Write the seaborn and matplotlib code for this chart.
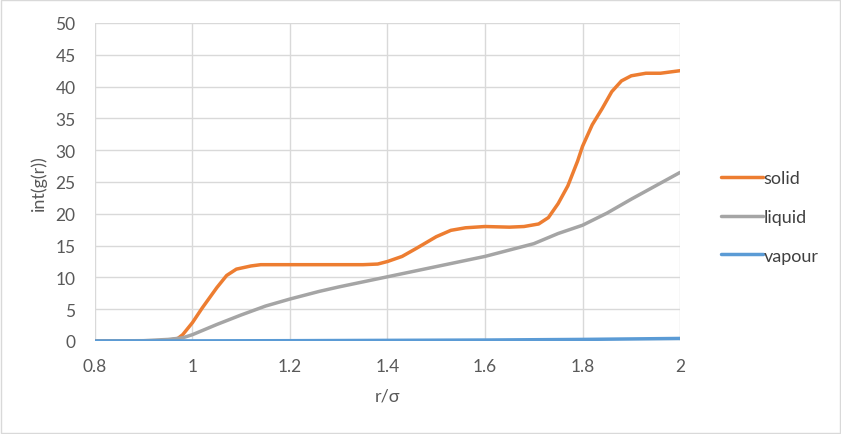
import matplotlib
matplotlib.use("Agg")
import matplotlib.pyplot as plt
import seaborn as sns
import pandas as pd
from matplotlib.patches import Rectangle

solid_r = [0.8, 0.85, 0.9, 0.93, 0.95, 0.97, 0.98, 1.0, 1.02, 1.05, 1.07, 1.09, 1.12, 1.14,
           1.2, 1.25, 1.3, 1.35, 1.38, 1.4, 1.43, 1.46, 1.5, 1.53, 1.56, 1.6, 1.65, 1.68, 1.71,
           1.73, 1.75, 1.77, 1.79, 1.8, 1.82, 1.84, 1.86, 1.88, 1.9, 1.93, 1.96, 2.0]
solid_v = [0, 0, 0, 0.05, 0.1, 0.4, 1.0, 2.9, 5.2, 8.4, 10.3, 11.3, 11.8, 12.0,
           12.0, 12.0, 12.0, 12.0, 12.1, 12.5, 13.3, 14.6, 16.4, 17.4, 17.8, 18.0, 17.9, 18.0, 18.4,
           19.4, 21.6, 24.4, 28.3, 30.6, 34.0, 36.5, 39.2, 40.9, 41.7, 42.1, 42.1, 42.5]

liquid_r = [0.8, 0.9, 0.95, 0.98, 1.0, 1.05, 1.1, 1.15, 1.2, 1.26, 1.3, 1.35, 1.4, 1.45, 1.5,
            1.55, 1.6, 1.65, 1.7, 1.75, 1.8, 1.85, 1.9, 1.95, 2.0]
liquid_v = [0, 0.05, 0.25, 0.5, 1.0, 2.6, 4.1, 5.5, 6.6, 7.8, 8.5, 9.3, 10.1, 10.9, 11.7,
            12.5, 13.3, 14.3, 15.3, 16.9, 18.2, 20.1, 22.3, 24.4, 26.5]

vapour_r = [0.8, 1.0, 1.2, 1.4, 1.6, 1.8, 2.0]
vapour_v = [0, 0.02, 0.05, 0.1, 0.15, 0.25, 0.4]

series_names = ["solid", "liquid", "vapour"]
colors = ["#ED7D31", "#A5A5A5", "#5B9BD5"]
x_ticks = [0.8, 1.0, 1.2, 1.4, 1.6, 1.8, 2.0]
x_tick_labels = ["0.8", "1", "1.2", "1.4", "1.6", "1.8", "2"]
y_ticks = list(range(0, 55, 5))

df = pd.concat([
    pd.DataFrame({"r": solid_r, "v": solid_v, "series": "solid"}),
    pd.DataFrame({"r": liquid_r, "v": liquid_v, "series": "liquid"}),
    pd.DataFrame({"r": vapour_r, "v": vapour_v, "series": "vapour"}),
], ignore_index=True)

sns.set_theme(style="white")
plt.rcParams["font.family"] = ["Lato", "DejaVu Sans"]

fig = plt.figure(figsize=(8.41, 4.35), dpi=100)
ax = fig.add_axes([95 / 841, 1 - 342 / 435, 585 / 841, 318 / 435])

sns.lineplot(data=df, x="r", y="v", hue="series", hue_order=series_names,
             palette=colors, estimator=None, linewidth=2.5, ax=ax, legend=True,
             solid_capstyle="round", solid_joinstyle="round")

ax.set_xlim(0.8, 2.0)
ax.set_ylim(0, 50)
ax.set_xticks(x_ticks)
ax.set_xticklabels(x_tick_labels)
ax.set_yticks(y_ticks)
ax.grid(True, color="#D9D9D9", linewidth=1.0)
ax.set_axisbelow(True)
for s in ax.spines.values():
    s.set_visible(False)
ax.tick_params(axis="both", length=0, labelsize=12.5, colors="#595959")
ax.tick_params(axis="x", pad=12)
ax.tick_params(axis="y", pad=14)
ax.set_xlabel("r/σ", fontsize=13, color="#595959", labelpad=10)
ax.set_ylabel("int(g(r))", fontsize=13, color="#595959", labelpad=6)

handles, labels = ax.get_legend_handles_labels()
ax.get_legend().remove()
leg = fig.legend(handles, labels, loc="center left", bbox_to_anchor=(712 / 841, 1 - 218 / 435),
                 frameon=False, fontsize=13, handlelength=2.3, handletextpad=0.05,
                 labelspacing=1.25, labelcolor="#404040", borderpad=0)
for h in leg.get_lines():
    h.set_linewidth(2.5)

fig.patches.append(Rectangle((1 / 841, 1 / 435), 839 / 841, 433 / 435, transform=fig.transFigure,
                             fill=False, edgecolor="#D9D9D9", linewidth=1.0))

fig.savefig("out.png", dpi=100)
